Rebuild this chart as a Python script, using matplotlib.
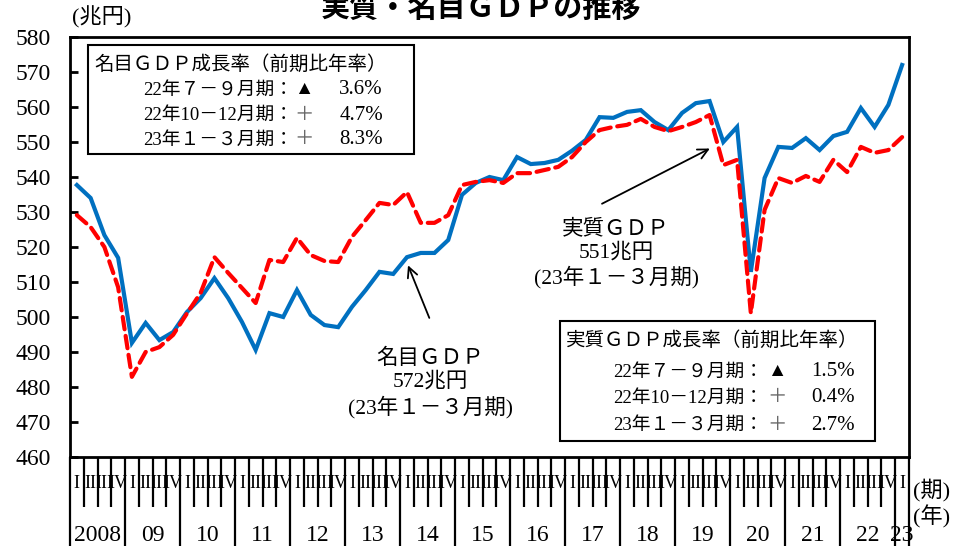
import numpy as np
import matplotlib
matplotlib.use("Agg")
import matplotlib.pyplot as plt

plt.rcParams['font.family'] = ['Liberation Serif', 'Noto Sans CJK JP']

# quarterly data, 2008 I - 2023 I (trillion yen)
nominal = [537.7, 534.0, 523.4, 516.9, 492.6, 498.3, 493.4, 495.7, 501.4, 505.4,
           511.1, 505.4, 498.6, 490.6, 501.1, 500.0, 507.7, 500.6, 497.7, 497.1,
           502.9, 507.7, 512.9, 512.3, 517.1, 518.3, 518.3, 522.0, 534.9, 538.3,
           540.0, 539.1, 545.7, 543.7, 544.0, 544.9, 547.5, 550.6, 557.1, 556.9,
           558.6, 559.1, 555.7, 553.4, 558.3, 561.1, 561.7, 550.0, 554.3, 512.9,
           539.7, 548.6, 548.3, 551.1, 547.7, 551.7, 552.9, 559.7, 554.3, 560.6,
           572.0]
real = [529.1, 525.7, 520.0, 508.5, 482.9, 490.0, 491.4, 494.9, 501.0, 506.9,
        517.1, 512.6, 508.3, 504.0, 516.3, 515.7, 522.6, 517.7, 516.0, 515.7,
        522.9, 527.7, 532.6, 532.0, 535.7, 526.9, 526.9, 529.1, 537.7, 538.6,
        539.1, 538.3, 541.1, 541.1, 542.0, 542.9, 545.7, 550.0, 553.4, 554.3,
        554.9, 556.6, 554.3, 553.1, 554.3, 555.7, 557.7, 543.4, 544.9, 501.1,
        530.6, 539.7, 538.3, 540.3, 538.6, 544.9, 541.4, 548.6, 546.9, 547.7,
        551.4]
years = ['2008', '09', '10', '11', '12', '13', '14', '15', '16', '17', '18',
         '19', '20', '21', '22', '23']
quarters = ['I', 'II', 'III', 'IV']

nom_rows = [('22年７－９月期：', '▲', '3.6%'),
            ('22年10－12月期：', '＋', '4.7%'),
            ('23年１－３月期：', '＋', '8.3%')]
real_rows = [('22年７－９月期：', '▲', '1.5%'),
             ('22年10－12月期：', '＋', '0.4%'),
             ('23年１－３月期：', '＋', '2.7%')]

W, H = 954, 546
fig = plt.figure(figsize=(W / 100, H / 100), dpi=100)
ax = fig.add_axes([70 / W, 1 - 457 / H, 839 / W, 420 / H])

x = np.arange(len(nominal))
ax.plot(x, nominal, color='#0070C0', lw=3, solid_joinstyle='miter', zorder=3)
ax.plot(x, real, color='#FF0000', lw=3, ls=(0, (3, 1.6)), dash_capstyle='round', zorder=4)

ax.set_xlim(-0.5, len(nominal) - 0.5)
ax.set_ylim(460, 580)
ax.set_yticks(np.arange(460, 581, 10))
ax.tick_params(axis='y', direction='in', length=6, width=2, labelsize=17, pad=14)

for s in ax.spines.values():
    s.set_linewidth(2)
    s.set_color('black')

# x axis: year boundaries long, quarter boundaries short
ybound = list(np.arange(-0.5, len(nominal) - 0.5, 4)) + [len(nominal) - 0.5]
ax.set_xticks(ybound)
ax.set_xticklabels([])
ax.set_xticks(np.arange(-0.5, len(nominal), 1), minor=True)
ax.tick_params(axis='x', which='major', direction='out', length=70, width=1.6)
ax.tick_params(axis='x', which='minor', direction='out', length=36, width=1.6)

tr = ax.get_xaxis_transform()
for i in range(len(nominal)):
    ax.text(i, -0.062, quarters[i % 4], transform=tr, ha='center', va='center',
            fontsize=13, family='Liberation Serif')
for k, yl in enumerate(years):
    xc = min(4 * k + 1.5, len(nominal) - 1)
    ax.text(xc, -0.186, yl, transform=tr, ha='center', va='center', fontsize=17)


def fx(px):
    return px / W


def fy(py):
    return 1 - py / H


fig.text(fx(481), fy(8), '実質・名目ＧＤＰの推移', ha='center', va='center',
         fontsize=21, fontweight='bold', family='Noto Sans CJK JP')
fig.text(fx(102), fy(17), '(兆円)', ha='center', va='center', fontsize=16)
fig.text(fx(932), fy(490), '(期)', ha='center', va='center', fontsize=16)
fig.text(fx(932), fy(517), '(年)', ha='center', va='center', fontsize=16)

# annotations
ax.text(25.7, 481, '名目ＧＤＰ\n572兆円\n(23年１－３月期)', ha='center', va='center',
        fontsize=15.5, linespacing=1.2, zorder=6)
ax.annotate('', xy=(24.0, 515.5), xytext=(25.7, 499),
            arrowprops=dict(arrowstyle='->', lw=1.3, color='black', mutation_scale=18))
ax.text(39.2, 518, '実質ＧＤＰ\n551兆円\n(23年１－３月期)', ha='center', va='center',
        fontsize=15.5, linespacing=1.2, zorder=6)
ax.annotate('', xy=(46.2, 548.5), xytext=(38.0, 532),
            arrowprops=dict(arrowstyle='->', lw=1.3, color='black', mutation_scale=18))


def box(x0, y0, x1, y1, title, rows, hx, colon_x, sign_x, val_x, ys):
    r = plt.Rectangle((fx(x0), fy(y1)), fx(x1 - x0), (y1 - y0) / H, transform=fig.transFigure,
                      fill=True, facecolor='white', edgecolor='black', lw=1.5, zorder=5)
    fig.add_artist(r)
    fig.text(fx(hx), fy(ys[0]), title, ha='left', va='center', fontsize=14, zorder=6)
    for (lab, sg, v), yy in zip(rows, ys[1:]):
        fig.text(fx(colon_x), fy(yy), lab, ha='right', va='center', fontsize=13.5, zorder=6)
        fig.text(fx(sign_x), fy(yy), sg, ha='center', va='center', fontsize=14, zorder=6,
                 color='black' if sg == '▲' else '#666666')
        fig.text(fx(val_x), fy(yy), v, ha='right', va='center', fontsize=15, zorder=6)


box(88, 45, 414, 154, '名目ＧＤＰ成長率（前期比年率）', nom_rows,
    94, 293, 304, 383, [64, 90, 115, 140])
box(560, 321, 875, 441, '実質ＧＤＰ成長率（前期比年率）', real_rows,
    566, 763, 777, 855, [340, 372, 398, 425])

fig.savefig('out.png', dpi=100)
